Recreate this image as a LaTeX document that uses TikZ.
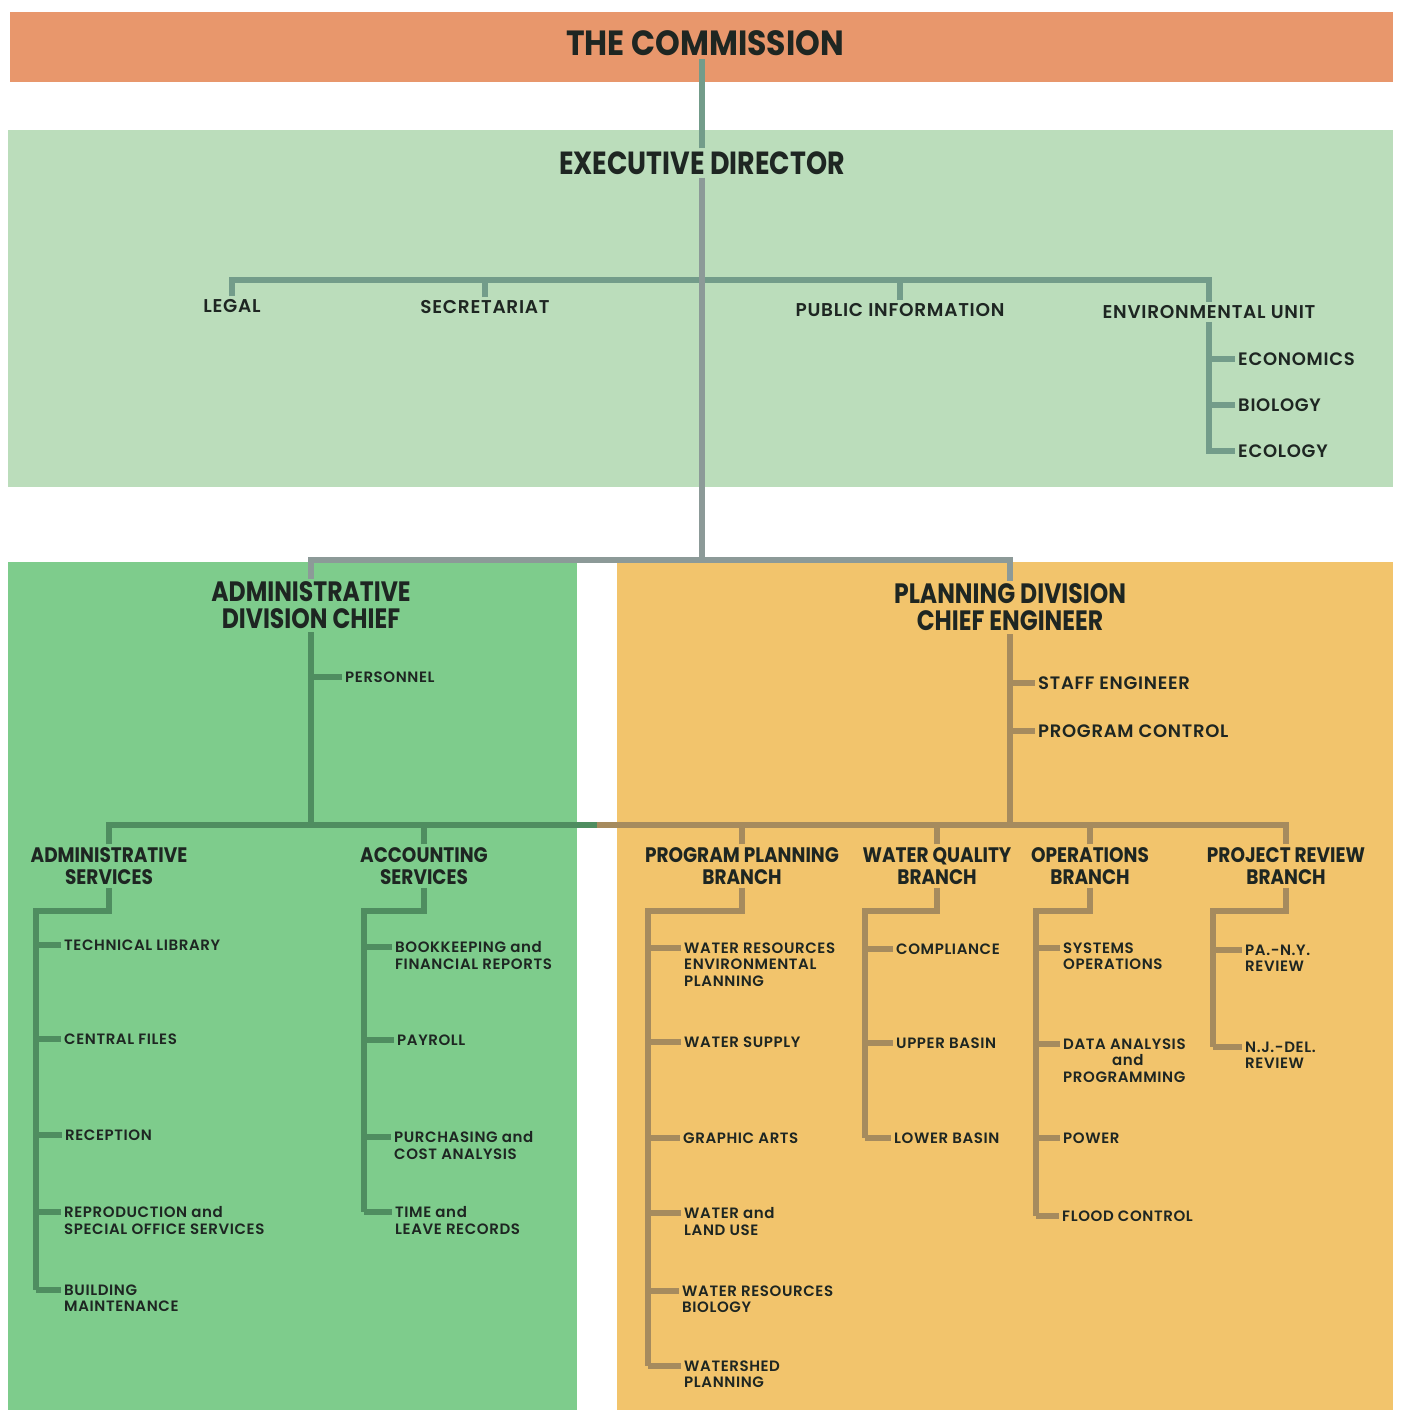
\documentclass[tikz,border=0pt]{standalone}
\usepackage{fontspec}
\setmainfont{Poppins}
\newfontfamily\commfont{Poppins}[FakeStretch=0.9]
\newfontfamily\headfont{Poppins}[FakeStretch=0.84]
\newfontfamily\brfont{Poppins}[FakeStretch=0.88]
\newfontfamily\itemfont{Poppins SemiBold}[LetterSpace=4]
\usetikzlibrary{calc}
\definecolor{cComm}{HTML}{E8976C}
\definecolor{cExec}{HTML}{BBDDBB}
\definecolor{cAdm}{HTML}{7ECC8C}
\definecolor{cPlan}{HTML}{F2C46C}
\definecolor{cExLine}{HTML}{739C8A}
\definecolor{cDivLine}{HTML}{8C9A98}
\definecolor{cGLine}{HTML}{4F8D60}
\definecolor{cPLine}{HTML}{A68B5E}
\definecolor{cInk}{HTML}{1E2622}
\tikzset{
	ttl/.style   ={font=\headfont\bfseries\fontsize{32}{34}\selectfont, inner sep=3pt},
	divttl/.style={font=\headfont\bfseries\fontsize{28}{27}\selectfont, align=center, inner sep=3pt},
	brh/.style   ={font=\brfont\bfseries\fontsize{21}{22}\selectfont, align=center, inner sep=3pt},
	unit/.style  ={font=\itemfont\fontsize{18.5}{20}\selectfont, inner sep=3pt},
	sub/.style   ={font=\itemfont\fontsize{18}{19}\selectfont, anchor=west, inner sep=3pt},
	item/.style  ={font=\itemfont\fontsize{15}{16.5}\selectfont, align=left, anchor=north west, inner xsep=3pt, inner ysep=0pt},
	% connector styles
	link/.style  ={line width=5.5pt, line join=miter},
	exline/.style={link, draw=cExLine},
	divline/.style={link, draw=cDivLine},
	gline/.style ={link, draw=cGLine},
	pline/.style ={link, draw=cPLine},
	gstub/.style ={gline, line width=6.5pt},
	pstub/.style ={pline, line width=6.5pt},
}
\begin{document}
\begin{tikzpicture}[x=1pt, y=-1pt, text=cInk]
	\useasboundingbox (0,0) rectangle (1400,1410);
	% colour bands
	\fill[cComm] (10,12) rectangle (1393,82);
	\fill[cExec] (8,130) rectangle (1393,487);
	\fill[cAdm] (8,562) rectangle (577,1410);
	\fill[cPlan] (617,562) rectangle (1393,1410);

	% top levels
	\node[ttl, font=\commfont\bfseries\fontsize{35}{36}\selectfont] (comm) at (705,43) {THE COMMISSION};
	\node[ttl] (exec) at (702,163) {EXECUTIVE DIRECTOR};
	\node[unit] (legal) at (232,306) {LEGAL};
	\node[unit] (secr) at (485,307) {SECRETARIAT};
	\node[unit] (pubinf) at (900,310) {PUBLIC INFORMATION};
	\node[unit] (envu) at (1209,312) {ENVIRONMENTAL UNIT};
	\node[sub] (econ) at (1235,359) {ECONOMICS};
	\node[sub] (biol) at (1235,405) {BIOLOGY};
	\node[sub] (ecol) at (1235,451) {ECOLOGY};
	\coordinate (xbus) at (702,280);
	\coordinate (dbus) at (702,560);

	\draw[exline] (exec.north) -- (exec.north |- comm.south);
	\draw[exline] (legal.north) |- (xbus) -| (envu.north);
	\draw[exline] (secr.north) -- (secr.north |- xbus);
	\draw[exline] (pubinf.north) -- (pubinf.north |- xbus);
	\draw[exline] (envu.south) |- (ecol.west);
	\draw[exline, line width=6.5pt] (econ.west -| envu.south) -- (econ.west);
	\draw[exline, line width=6.5pt] (biol.west -| envu.south) -- (biol.west);

	% divisions
	\node[divttl] (admin) at (311,605.5) {ADMINISTRATIVE\\DIVISION CHIEF};
	\node[divttl] (plan) at (1010,607.5) {PLANNING DIVISION\\CHIEF ENGINEER};
	\draw[divline] (exec.south) -- (exec.south |- dbus);
	\draw[divline] (admin.north) |- (dbus) -| (plan.north);

	\node[sub, font=\itemfont\fontsize{15}{16}\selectfont] (pers) at (342,677) {PERSONNEL};
	\node[sub] (staff) at (1035,683) {STAFF ENGINEER};
	\node[sub] (pctl) at (1035,731) {PROGRAM CONTROL};
	\coordinate (gap) at (597,825);
	\draw[gline] (admin.south) -- (admin.south |- gap);
	\draw[gstub] (pers.west -| admin.south) -- (pers.west);
	\draw[pline] (plan.south) -- (plan.south |- gap);
	\draw[pstub] (staff.west -| plan.south) -- (staff.west);
	\draw[pstub] (pctl.west -| plan.south) -- (pctl.west);

	% branches
	\node[brh] (admsvc) at (109,866) {ADMINISTRATIVE\\SERVICES};
	\node[brh] (acct) at (424,866) {ACCOUNTING\\SERVICES};
	\node[brh] (progpl) at (742,866) {PROGRAM PLANNING\\BRANCH};
	\node[brh] (wqual) at (937,866) {WATER QUALITY\\BRANCH};
	\node[brh] (oper) at (1090,866) {OPERATIONS\\BRANCH};
	\node[brh] (prev) at (1286,866) {PROJECT REVIEW\\BRANCH};
	\draw[gline] (admsvc.north) |- (gap);
	\draw[gline] (acct.north) -- (acct.north |- gap);
	\draw[pline] (gap) -| (prev.north);
	\foreach \b in {progpl, wqual, oper}
		\draw[pline] (\b.north) -- (\b.north |- gap);

	\coordinate (asc) at (36,911);
	\coordinate (acc) at (364,911);
	\coordinate (ppc) at (648,911);
	\coordinate (wqc) at (865,911);
	\coordinate (opc) at (1036,911);
	\coordinate (prc) at (1213,911);

	\foreach \n/\tr/\x/\y/\t in {
		tl/asc/64/945/{TECHNICAL LIBRARY},
		cf/asc/64/1039/{CENTRAL FILES},
		rec/asc/65/1135/{RECEPTION},
		repro/asc/64/1212/{REPRODUCTION and\\SPECIAL OFFICE SERVICES},
		bldg/asc/64/1290/{BUILDING\\MAINTENANCE},
		book/acc/395/947/{BOOKKEEPING and\\FINANCIAL REPORTS},
		pay/acc/397/1040/{PAYROLL},
		purch/acc/394/1137/{PURCHASING and\\COST ANALYSIS},
		time/acc/395/1212/{TIME and\\LEAVE RECORDS}} {
		\node[item] (\n) at ({\x-3},{\y-5.5}) {\t};
		\coordinate (\n-in) at ($(\n.north west)+(0,5.5)$);
		\draw[gstub] (\n-in -| \tr) -- (\n-in);
	}
	\foreach \n/\tr/\x/\y/\t in {
		wre/ppc/684/948/{WATER RESOURCES\\ENVIRONMENTAL\\PLANNING},
		ws/ppc/684/1042/{WATER SUPPLY},
		ga/ppc/683/1138/{GRAPHIC ARTS},
		wlu/ppc/684/1213/{WATER and\\LAND USE},
		wrb/ppc/682/1291/{WATER RESOURCES\\BIOLOGY},
		wsh/ppc/684/1366/{WATERSHED\\PLANNING},
		comp/wqc/896/949/{COMPLIANCE},
		ub/wqc/896/1043/{UPPER BASIN},
		lb/wqc/894/1138/{LOWER BASIN},
		so/opc/1063/948/{SYSTEMS\\OPERATIONS},
		da/opc/1063/1044/{DATA ANALYSIS\\\hspace*{49pt}and\\PROGRAMMING},
		pow/opc/1063/1138/{POWER},
		fc/opc/1062/1216/{FLOOD CONTROL},
		pany/prc/1245/950/{PA.-N.Y.\\REVIEW},
		njd/prc/1245/1047/{N.J.-DEL.\\REVIEW}} {
		\node[item] (\n) at ({\x-3},{\y-5.5}) {\t};
		\coordinate (\n-in) at ($(\n.north west)+(0,5.5)$);
		\draw[pstub] (\n-in -| \tr) -- (\n-in);
	}

	\draw[gline] (admsvc.south) |- (asc) -- (asc |- bldg-in);
	\draw[gline] (acct.south) |- (acc) -- (acc |- time-in);
	\draw[pline] (progpl.south) |- (ppc) -- (ppc |- wsh-in);
	\draw[pline] (wqual.south) |- (wqc) -- (wqc |- lb-in);
	\draw[pline] (oper.south) |- (opc) -- (opc |- fc-in);
	\draw[pline] (prev.south) |- (prc) -- (prc |- njd-in);
\end{tikzpicture}
\end{document}
